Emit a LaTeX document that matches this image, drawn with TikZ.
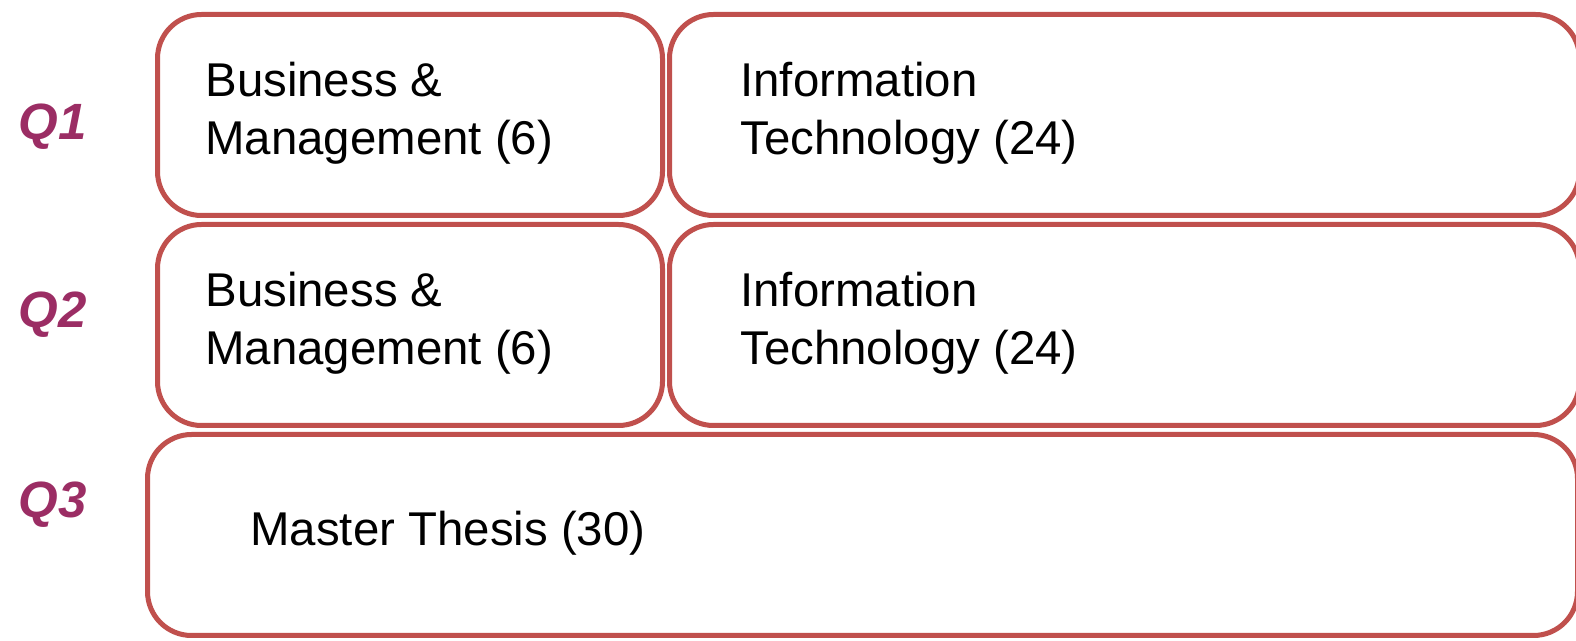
\documentclass[tikz,border=0pt]{standalone}
\usepackage{fontspec}
\setmainfont{Liberation Sans}
\usepackage{xcolor}
\usetikzlibrary{positioning}
\definecolor{boxred}{HTML}{C0504D}
\definecolor{qpurple}{RGB}{155,45,100}
\tikzstyle{course}=[draw=boxred,line width=2.5pt,rounded corners=22pt,fill=white,inner sep=0pt]
\tikzstyle{coursetext}=[align=left,anchor=base west,inner sep=0pt,font=\fontsize{23.7}{29}\selectfont]
\tikzstyle{quarter}=[text=qpurple,inner sep=0pt,font=\fontsize{25.5}{29}\selectfont\bfseries\itshape]

\begin{document}
\begin{tikzpicture}[x=0.5pt,y=-0.5pt]
    \useasboundingbox (0,0) rectangle (1576,641);
    \clip (0,0) rectangle (1576,641);

    % boxes
    \node[course, minimum width=252.5pt, minimum height=100.5pt] (bm1) at (410,115) {};
    \node[course, minimum width=455pt, minimum height=100.5pt] (it1) at (1124.5,115) {};
    \node[course, minimum width=252.5pt, minimum height=100.5pt] (bm2) at (410,325) {};
    \node[course, minimum width=455pt, minimum height=100.5pt] (it2) at (1124.5,325) {};
    \node[course, minimum width=715pt, minimum height=100.5pt] (mt) at (862.5,535) {};

    % texts
    \node[coursetext] (bm1t) at (205,155) {Business \&\\Management (6)};
    \node[coursetext] (it1t) at (740,155) {Information\\Technology (24)};
    \node[coursetext] (bm2t) at (205,365) {Business \&\\Management (6)};
    \node[coursetext] (it2t) at (740,365) {Information\\Technology (24)};
    \node[coursetext] (mtt) at (250,546) {Master Thesis (30)};

    % quarters
    \node[quarter] (q1) at (53,127) {Q1};
    \node[quarter] (q2) at (53,315) {Q2};
    \node[quarter] (q3) at (53,505) {Q3};
\end{tikzpicture}
\end{document}
